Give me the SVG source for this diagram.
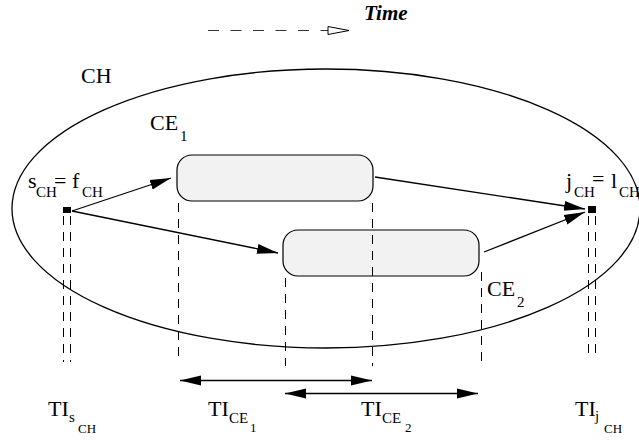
<svg xmlns="http://www.w3.org/2000/svg" width="639" height="441" viewBox="0 0 639 441">
<defs>
<style>
.t{font-family:'Liberation Serif','Times New Roman',Times,serif}
.m{font-size:22px}
.s{font-size:15px}
.ss{font-size:13px}
.ln{stroke:#000;stroke-width:1.3;fill:none}
.dv{stroke:#000;stroke-width:1;stroke-dasharray:9 7;fill:none}
.box{fill:#f2f2f2;stroke:#000;stroke-width:1.2}
</style>
<marker id="ah" markerUnits="userSpaceOnUse" markerWidth="22" markerHeight="12" viewBox="0 0 22 12" refX="21" refY="6" orient="auto-start-reverse">
<path d="M0,1 L21,6 L0,11 Z" fill="#000"/>
</marker>
<marker id="oh" markerUnits="userSpaceOnUse" markerWidth="24" markerHeight="12" viewBox="0 0 24 12" refX="22" refY="6" orient="auto">
<path d="M1,2 L22,6 L1,10 Z" fill="#fff" stroke="#000" stroke-width="1"/>
</marker>
</defs>
<rect width="639" height="441" fill="#fff"/>

<g font-family="Liberation Serif, serif" fill="#000">
<g id="time">
<line x1="208" y1="30.5" x2="349" y2="30.5" stroke="#333" stroke-width="1.2" stroke-dasharray="11 11.5" marker-end="url(#oh)"/>
<text class="t" x="364" y="20" font-size="21" font-style="italic" font-weight="bold">Time</text>
</g>

<g id="CH">
<ellipse cx="326" cy="208.5" rx="314" ry="139.5" class="ln" stroke-width="1.2"/>
<text class="t m" x="81" y="83">CH</text>
</g>

<g id="sCH">
<rect x="63" y="207" width="8" height="6" fill="#000"/>
<text class="t m" x="28" y="188">s</text>
<text class="t s" x="36" y="197">CH</text>
<text class="t m" x="54" y="188">=</text>
<text class="t m" x="72" y="188">f</text>
<text class="t s" x="82" y="197">CH</text>
</g>

<g id="jCH">
<rect x="588" y="206" width="8" height="7" fill="#000"/>
<text class="t m" x="566" y="188">j</text>
<text class="t s" x="574" y="197">CH</text>
<text class="t m" x="592" y="186">=</text>
<text class="t m" x="611" y="188">l</text>
<text class="t s" x="619" y="197">CH</text>
</g>

<g id="CE1">
<rect x="177" y="155" width="196" height="46" rx="15" ry="15" class="box"/>
<text class="t m" x="150" y="130">CE</text>
<text class="t s" x="180" y="141">1</text>
</g>

<g id="CE2">
<rect x="283" y="230" width="196" height="46" rx="15" ry="15" class="box"/>
<text class="t m" x="487" y="296">CE</text>
<text class="t s" x="517" y="307">2</text>
</g>

<g id="connectors">
<line x1="72" y1="211" x2="171" y2="178" class="ln" marker-end="url(#ah)"/>
<line x1="72" y1="211" x2="278" y2="253" class="ln" marker-end="url(#ah)"/>
<line x1="375" y1="177" x2="585" y2="209" class="ln" marker-end="url(#ah)"/>
<line x1="484" y1="252" x2="585" y2="212" class="ln" marker-end="url(#ah)"/>
</g>

<g id="guides">
<line x1="63.5" y1="216" x2="63.5" y2="362" class="dv"/>
<line x1="70.5" y1="216" x2="70.5" y2="362" class="dv"/>
<line x1="178.5" y1="203" x2="178.5" y2="362" class="dv"/>
<line x1="285.5" y1="278" x2="285.5" y2="366" class="dv"/>
<line x1="372.5" y1="203" x2="372.5" y2="366" class="dv"/>
<line x1="481.5" y1="272" x2="481.5" y2="362" class="dv"/>
<line x1="588.5" y1="216" x2="588.5" y2="360" class="dv"/>
<line x1="595.5" y1="216" x2="595.5" y2="360" class="dv"/>
</g>

<g id="intervals">
<line x1="180" y1="380.5" x2="372" y2="380.5" class="ln" marker-start="url(#ah)" marker-end="url(#ah)"/>
<line x1="285" y1="393.5" x2="478" y2="393.5" class="ln" marker-start="url(#ah)" marker-end="url(#ah)"/>
</g>

<g id="TIs">
<text class="t m" x="48" y="416">TI</text>
<text class="t s" x="69" y="422">s</text>
<text class="t ss" x="78" y="433">CH</text>
</g>
<g id="TICE1">
<text class="t m" x="208" y="416">TI</text>
<text class="t s" x="229" y="423">CE</text>
<text class="t ss" x="250" y="432">1</text>
</g>
<g id="TICE2">
<text class="t m" x="361" y="416">TI</text>
<text class="t s" x="382" y="423">CE</text>
<text class="t ss" x="405" y="432">2</text>
</g>
<g id="TIj">
<text class="t m" x="575" y="416">TI</text>
<text class="t s" x="595" y="421">j</text>
<text class="t ss" x="604" y="433">CH</text>
</g>
</g>
</svg>
